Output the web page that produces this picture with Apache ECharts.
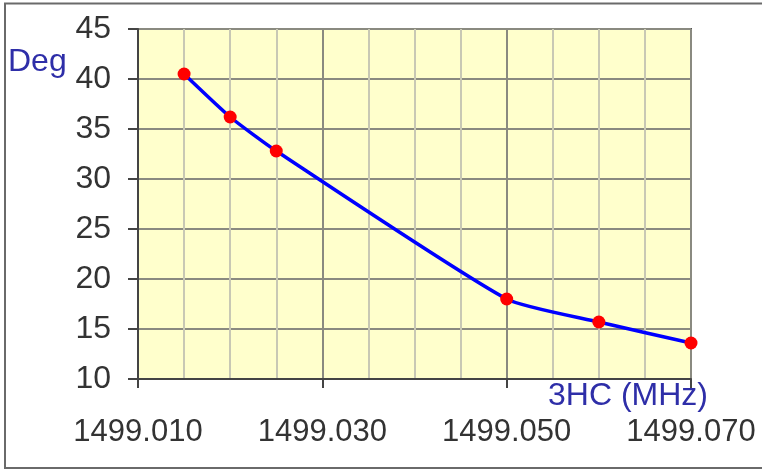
<!DOCTYPE html>
<html>
<head>
<meta charset="utf-8">
<script src="https://cdn.jsdelivr.net/npm/echarts@6/dist/echarts.min.js"></script>
<style>html,body{margin:0;padding:0;background:#fff}#c{width:762px;height:470px}</style>
</head>
<body>
<div id="c"></div>
<script>
// Data
const freqMHz = [1499.015, 1499.020, 1499.025, 1499.050, 1499.060, 1499.070];
const phaseDeg = [40.5, 36.2, 32.8, 18.0, 15.7, 13.6];
const xTickLabels = ['1499.010', '1499.030', '1499.050', '1499.070'];
const yTicks = [10, 15, 20, 25, 30, 35, 40, 45];
const xBase = 1499.010;   // axis origin (MHz)
const yName = 'Deg';
const xName = '3HC (MHz)';

// axis uses kHz offset from xBase so tick math stays exact
const toAxis = f => Math.round((f - xBase) * 1e6) / 1e3;
const seriesData = freqMHz.map((f, i) => [toAxis(f), phaseDeg[i]]);

const font = '"Liberation Sans", Arial, sans-serif';
const chart = echarts.init(document.getElementById('c'), null, {renderer: 'canvas'});
chart.setOption({
  animation: false,
  grid: {left: 138, top: 29, right: 71, bottom: 91, show: true,
         backgroundColor: '#ffffcc', borderColor: '#555', borderWidth: 2},
  xAxis: {
    type: 'value', min: 0, max: 60, interval: 20,
    axisLine: {lineStyle: {color: '#444', width: 2}},
    axisTick: {show: true, length: 9, lineStyle: {color: '#444', width: 2}},
    axisLabel: {margin: 38, color: '#333', fontSize: 31, fontFamily: font,
                formatter: v => xTickLabels[Math.round(v / 20)]},
    splitLine: {show: true, lineStyle: {color: '#8a8a80', width: 2}},
    minorTick: {show: true, splitNumber: 4, length: 0},
    minorSplitLine: {show: true, lineStyle: {color: '#c8c8b4', width: 2}}
  },
  yAxis: {
    type: 'value', min: yTicks[0], max: yTicks[yTicks.length - 1], interval: 5,
    axisLine: {show: true, lineStyle: {color: '#444', width: 2}},
    axisTick: {show: true, length: 10, lineStyle: {color: '#444', width: 2}},
    axisLabel: {margin: 27, color: '#333', fontSize: 32, fontFamily: font},
    splitLine: {show: true, lineStyle: {color: '#8a8a80', width: 2}}
  },
  graphic: [
    {type: 'rect', shape: {x: 5, y: 3.5, width: 800, height: 464.5},
     style: {fill: 'none', stroke: '#6a6a6a', lineWidth: 2}, silent: true, z: -1},
    {type: 'text', left: 8, top: 46,
     style: {text: yName, fill: '#2e2ea8', font: '32px ' + font}},
    {type: 'text', right: 54, top: 380,
     style: {text: xName, fill: '#2e2ea8', font: '32px ' + font}}
  ],
  series: [{
    type: 'line', data: seriesData, smooth: 0.18,
    lineStyle: {color: '#0000ff', width: 3.5},
    symbol: 'circle', symbolSize: 13,
    itemStyle: {color: '#ff0000'}
  }]
});
</script>
</body>
</html>
